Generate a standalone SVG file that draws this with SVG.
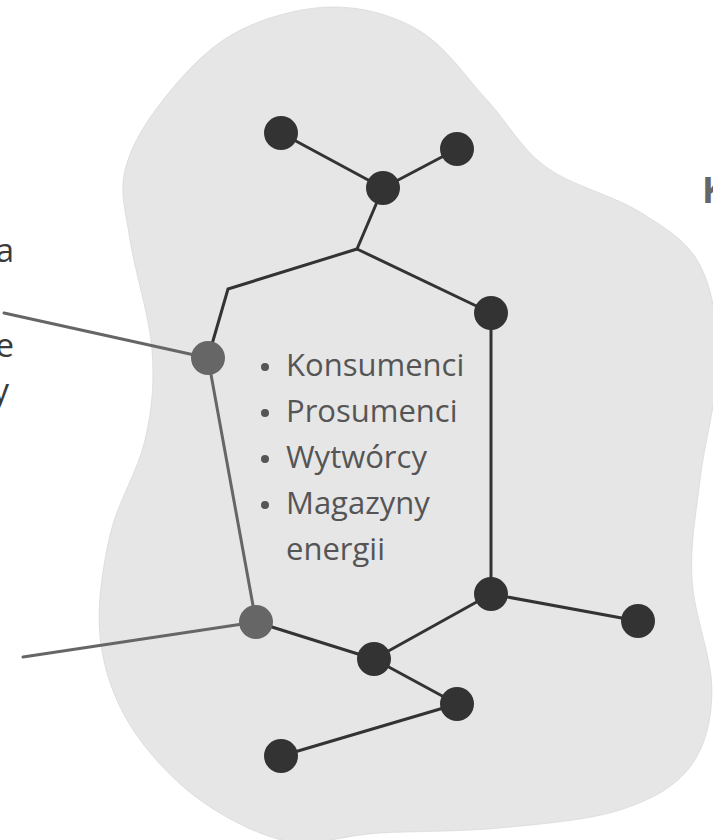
<svg xmlns="http://www.w3.org/2000/svg" width="713" height="840" viewBox="0 0 713 840">
<defs>
<style>
.blob{fill:#e6e6e6;stroke:#d2d2d2;stroke-width:0.6}
.edge{stroke:#333333;stroke-width:3;fill:none;stroke-linecap:round}
.edge-grey{stroke:#666666;stroke-width:3;fill:none;stroke-linecap:round}
.node{fill:#333333}
.node-grey{fill:#666666}
.list{font-family:"Open Sans","Liberation Sans",sans-serif;font-size:31px;fill:#555555}
.bullet{fill:#555555}
.side{font-family:"Open Sans","Liberation Sans",sans-serif;font-size:33px;fill:#3a3a3a}
.title{font-family:"Open Sans","Liberation Sans",sans-serif;font-size:36px;font-weight:bold;fill:#666666}
</style>
</defs>
<rect width="713" height="840" fill="#ffffff"/>
<path class="blob" d="M331,7 C362.2,6.5 394,15.2 420,31 C446,46.8 466,77.2 487,100 C508,122.8 520.5,148.3 546,167 C571.5,185.7 614.3,195.7 640,212 C665.7,228.3 687,240.3 700,265 C713,289.7 718,324.2 718,360 C718,395.8 704.3,443.3 700,480 C695.7,516.7 690,545 692,580 C694,615 712.3,658.8 712,690 C711.7,721.2 705.3,747 690,767 C674.7,787 651.7,799.8 620,810 C588.3,820.2 540,824.2 500,828 C460,831.8 415,831 380,833 C345,835 320,845.5 290,842 C260,836 226.7,819.2 200,800 C173.3,780.8 146.7,752.2 130,725 C113.3,697.8 103.3,668.7 100,637 C96.7,605.3 102.5,567.8 110,535 C117.5,502.2 138,470.8 145,440 C152,409.2 154.5,383.3 152,350 C149.5,316.7 134.5,270 130,240 C125.5,210 119.5,193.3 125,170 C130.5,146.7 145,122.8 163,100 C181,77.2 205,49.8 233,34 C261,18.2 299.8,7.5 331,7 Z"/>
<text class="side" x="14" y="262" text-anchor="end">a</text>
<text class="side" x="14" y="357" text-anchor="end">e</text>
<text class="side" x="9" y="402" text-anchor="end">y</text>
<text class="title" x="702" y="203">K</text>
<g id="connectors">
<line class="edge-grey" x1="4" y1="313" x2="208" y2="358"/>
<line class="edge-grey" x1="23" y1="657" x2="256" y2="622"/>
<line class="edge" x1="281" y1="133" x2="383" y2="188"/>
<line class="edge" x1="457" y1="149" x2="383" y2="188"/>
<line class="edge" x1="383" y1="188" x2="357" y2="249"/>
<polyline class="edge" points="357,249 228,289 208,358"/>
<line class="edge" x1="357" y1="249" x2="491" y2="313"/>
<line class="edge" x1="491" y1="313" x2="491" y2="594"/>
<line class="edge-grey" x1="208" y1="358" x2="256" y2="622"/>
<line class="edge" x1="256" y1="622" x2="374" y2="659"/>
<line class="edge" x1="374" y1="659" x2="491" y2="594"/>
<line class="edge" x1="491" y1="594" x2="638" y2="621"/>
<line class="edge" x1="374" y1="659" x2="457" y2="704"/>
<line class="edge" x1="457" y1="704" x2="281" y2="756"/>
</g>
<g id="node-a"><circle class="node" cx="281" cy="133" r="17"/></g>
<g id="node-b"><circle class="node" cx="457" cy="149" r="17"/></g>
<g id="node-c"><circle class="node" cx="383" cy="188" r="17"/></g>
<g id="node-d"><circle class="node-grey" cx="208" cy="358" r="17"/></g>
<g id="node-e"><circle class="node" cx="491" cy="313" r="17"/></g>
<g id="node-f"><circle class="node" cx="491" cy="594" r="17"/></g>
<g id="node-g"><circle class="node-grey" cx="256" cy="622" r="17"/></g>
<g id="node-h"><circle class="node" cx="374" cy="659" r="17"/></g>
<g id="node-i"><circle class="node" cx="638" cy="621" r="17"/></g>
<g id="node-j"><circle class="node" cx="457" cy="704" r="17"/></g>
<g id="node-k"><circle class="node" cx="281" cy="756" r="17"/></g>
<g id="list">
<circle class="bullet" cx="265" cy="367" r="4"/>
<circle class="bullet" cx="265" cy="413" r="4"/>
<circle class="bullet" cx="265" cy="459" r="4"/>
<circle class="bullet" cx="265" cy="505" r="4"/>
<text class="list" x="286" y="376">Konsumenci</text>
<text class="list" x="286" y="422">Prosumenci</text>
<text class="list" x="286" y="468">Wytwórcy</text>
<text class="list" x="286" y="514">Magazyny</text>
<text class="list" x="286" y="560">energii</text>
</g>
</svg>
